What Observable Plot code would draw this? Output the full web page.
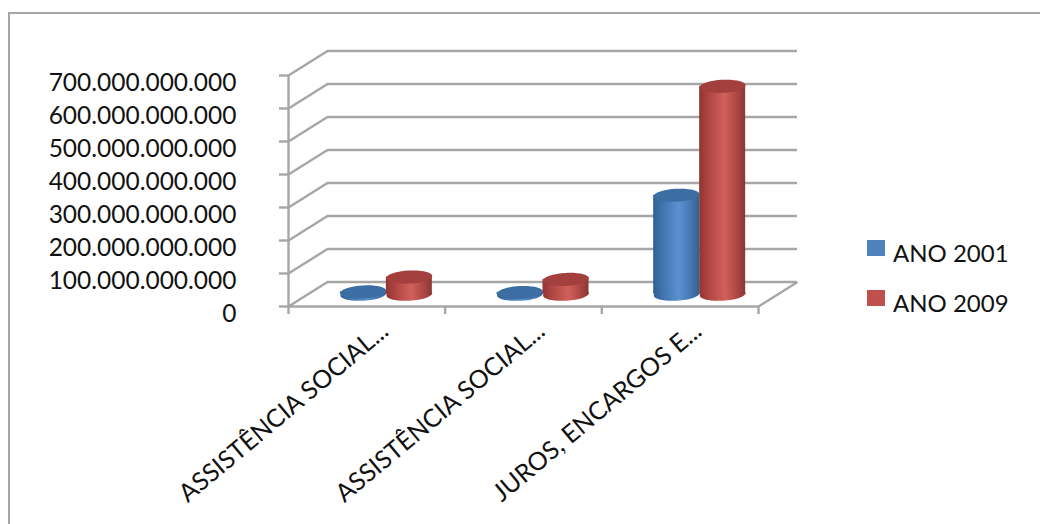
<!DOCTYPE html>
<html>
<head>
<meta charset="utf-8">
<script src="https://cdn.jsdelivr.net/npm/d3@7"></script>
<script src="https://cdn.jsdelivr.net/npm/@observablehq/plot@0.6"></script>
<style>
  html, body { margin: 0; padding: 0; background: #fff; }
  #wrap { position: relative; width: 1040px; height: 524px; overflow: hidden; font-family: Lato, sans-serif; }
  #wrap svg { position: absolute; left: 0; top: 0; }
  #border { position: absolute; left: 8px; top: 12px; right: -4px; bottom: -4px; border: 2px solid #a6a6a6; }
  .lg { position: absolute; left: 867px; display: flex; align-items: center; font-size: 24px; color: #111; line-height: 1; }
  .lg i { display: block; width: 18px; height: 16px; margin-right: 8px; position: relative; top: -3px; }
  .lg span { position: relative; top: 2px; }
</style>
</head>
<body>
<div id="wrap"><div id="border"></div></div>
<script>
const categories = ["ASSISTÊNCIA SOCIAL...", "ASSISTÊNCIA SOCIAL...", "JUROS, ENCARGOS E..."];
const ano2001 = [7e9, 5e9, 300e9];
const ano2009 = [52e9, 45e9, 630e9];
const yTicks = [0, 100e9, 200e9, 300e9, 400e9, 500e9, 600e9, 700e9];
const xTicks = [0, 1, 2, 3];
const seriesNames = ["ANO 2001", "ANO 2009"];
const seriesColors = ["#4f81bd", "#c0504d"];

// 3D depth of the box, in data units
const depthX = 0.249;
const depthY = 74.2e9;
const barW = 0.2936;

const fmt = d3.formatLocale({decimal: ",", thousands: ".", grouping: [3], currency: ["", ""]}).format(",d");
const grid = "#a6a6a6";
const gridW = 2.4;

const rows = (vals, side) => vals.map((v, i) => {
  const c = i + 0.5 + depthX / 2;
  return {x1: side < 0 ? c - barW : c, x2: side < 0 ? c : c + barW, xc: c + side * barW / 2, y0: depthY / 2, y1: v + depthY / 2};
});
const blue = rows(ano2001, -1);
const red = rows(ano2009, 1);

// tilted ellipse drawn as a custom symbol
const ellipse = (rx, ry, deg) => ({
  draw(ctx) {
    const t = deg * Math.PI / 180, k = 0.5523;
    const P = (a, b) => [a * Math.cos(t) - b * Math.sin(t), a * Math.sin(t) + b * Math.cos(t)];
    ctx.moveTo(...P(rx, 0));
    ctx.bezierCurveTo(...P(rx, k * ry), ...P(k * rx, ry), ...P(0, ry));
    ctx.bezierCurveTo(...P(-k * rx, ry), ...P(-rx, k * ry), ...P(-rx, 0));
    ctx.bezierCurveTo(...P(-rx, -k * ry), ...P(-k * rx, -ry), ...P(0, -ry));
    ctx.bezierCurveTo(...P(k * rx, -ry), ...P(rx, -k * ry), ...P(rx, 0));
    ctx.closePath();
  }
});
const cap = ellipse(23, 6.5, -3);

const gradient = (id, stops) => () => {
  const defs = d3.create("svg:defs");
  const g = defs.append("linearGradient").attr("id", id).attr("x1", 0).attr("x2", 1).attr("y1", 0).attr("y2", 0);
  stops.forEach(([o, c]) => g.append("stop").attr("offset", o).attr("stop-color", c));
  return defs.node();
};
const blueStops = [[0, "#2f5f92"], [0.18, "#3f72ac"], [0.55, "#5a91d2"], [0.82, "#4677b0"], [1, "#345f8f"]];
const redStops = [[0, "#8f3432"], [0.18, "#ad4340"], [0.55, "#d2605c"], [0.82, "#ad4643"], [1, "#8a3634"]];

const cyl = (data, url, top) => [
  Plot.dot(data, {x: "xc", y: "y0", symbol: cap, r: 1, fill: url, stroke: "none"}),
  Plot.rect(data, {x1: "x1", x2: "x2", y1: "y0", y2: "y1", fill: url}),
  Plot.dot(data, {x: "xc", y: "y1", symbol: cap, r: 1, fill: top, stroke: "none"})
];

const chart = Plot.plot({
  width: 1040,
  height: 524,
  marginLeft: 288,
  marginRight: 243,
  marginTop: 50.5,
  marginBottom: 218,
  style: {background: "transparent", fontFamily: "Lato, sans-serif"},
  x: {type: "linear", domain: [0, 3 + depthX]},
  y: {type: "linear", domain: [0, 700e9 + depthY]},
  marks: [
    gradient("gBlue", blueStops),
    gradient("gRed", redStops),
    // back wall
    Plot.ruleY(yTicks, {y: d => d + depthY, x1: depthX, x2: 3 + depthX, stroke: grid, strokeWidth: gridW}),
    // side wall diagonals
    Plot.link(yTicks, {x1: 0, y1: d => d, x2: depthX, y2: d => d + depthY, stroke: grid, strokeWidth: gridW}),
    // floor right edge
    Plot.link([0], {x1: 3, y1: 0, x2: 3 + depthX, y2: depthY, stroke: grid, strokeWidth: gridW}),
    // front axes
    Plot.ruleX([0], {y1: 0, y2: 700e9, stroke: grid, strokeWidth: gridW}),
    Plot.ruleY([0], {x1: 0, x2: 3, stroke: grid, strokeWidth: gridW}),
    Plot.axisX(xTicks, {tickSize: 8, tickFormat: () => "", stroke: grid, strokeWidth: gridW, label: null}),
    Plot.axisY(yTicks, {tickSize: 9, tickFormat: () => "", stroke: grid, strokeWidth: gridW, label: null}),
    Plot.axisY(yTicks, {tickSize: 0, tickPadding: 52, tickFormat: fmt, fontSize: 24.5, fill: "#111", dy: 8, label: null}),
    ...cyl(blue, "url(#gBlue)", "#3c6ea4"),
    ...cyl(red, "url(#gRed)", "#a33f3d"),
    Plot.text(categories, {
      x: (d, i) => i + 0.5, y: 0, text: d => d, rotate: -40, textAnchor: "end",
      dx: 18, dy: 21, fontSize: 25, fill: "#111"
    })
  ]
});
const wrap = document.getElementById("wrap");
wrap.appendChild(chart);
seriesNames.forEach((n, i) => {
  const el = document.createElement("div");
  el.className = "lg";
  el.style.top = (239 + i * 50) + "px";
  el.innerHTML = `<i style="background:${seriesColors[i]}"></i><span>${n}</span>`;
  wrap.appendChild(el);
});
</script>
</body>
</html>
